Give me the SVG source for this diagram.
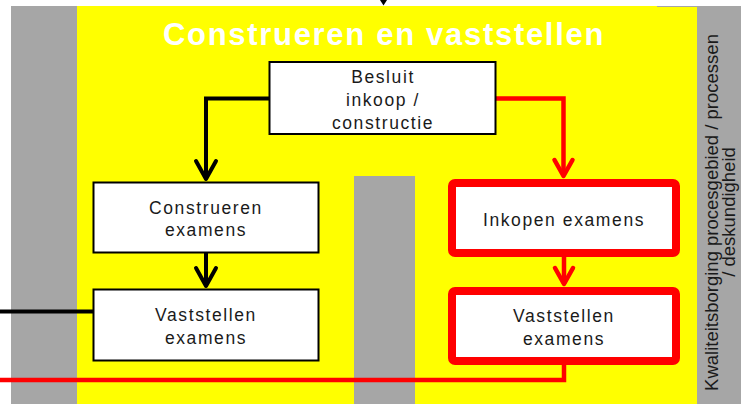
<svg xmlns="http://www.w3.org/2000/svg" width="741" height="404" viewBox="0 0 741 404">
<style>
.band{fill:#a6a6a6}
.node{fill:#fff;stroke:#000;stroke-width:2}
.rnode{fill:#fff;stroke:#ff0000;stroke-width:8}
.lbl{font-family:"Liberation Sans",Arial,sans-serif;font-size:17.5px;letter-spacing:1.6px;fill:#1a1a1a;text-anchor:middle}
.title{font-family:"Liberation Sans",Arial,sans-serif;font-size:31px;font-weight:bold;letter-spacing:1.7px;fill:#fff;text-anchor:middle}
.side{font-family:"Liberation Sans",Arial,sans-serif;font-size:18.5px;fill:#1a1a1a;text-anchor:middle}
.cb{fill:none;stroke:#000;stroke-width:4}
.cr{fill:none;stroke:#ff0000;stroke-width:4.5}
</style>
<defs>
<marker id="chevB" markerUnits="userSpaceOnUse" markerWidth="24" markerHeight="24" refX="0" refY="0" orient="auto" overflow="visible">
<path d="M-18,-10 L0,0 L-18,10" fill="none" stroke="#000" stroke-width="4" stroke-linecap="round" stroke-linejoin="round"/>
</marker>
<marker id="chevR" markerUnits="userSpaceOnUse" markerWidth="24" markerHeight="24" refX="0" refY="0" orient="auto" overflow="visible">
<path d="M-16,-9 L0,0 L-16,9" fill="none" stroke="#ff0000" stroke-width="4.5" stroke-linecap="round" stroke-linejoin="round"/>
</marker>
</defs>
<g id="background">
<rect x="77" y="6" width="620" height="398" fill="#ffff00"/>
<rect class="band" x="11" y="6" width="66" height="398"/>
<rect class="band" x="354" y="176" width="61" height="228"/>
<rect class="band" x="697" y="6" width="44" height="398"/>
<rect class="band" x="657" y="6" width="40" height="1"/>
<polygon points="380,0 387,0 383.5,5.5" fill="#000"/>
</g>
<g id="title">
<text class="title" x="384" y="45">Construeren en vaststellen</text>
</g>
<g id="side-label">
<text class="side" transform="translate(718,212.5) rotate(-90)">Kwaliteitsborging procesgebied / processen</text>
<text class="side" transform="translate(735,212) rotate(-90)">/ deskundigheid</text>
</g>
<g id="connectors">
<path class="cb" d="M269,98.5 H206 V179" marker-end="url(#chevB)"/>
<path class="cb" d="M206,253 V286" marker-end="url(#chevB)"/>
<path class="cb" d="M0,311.5 H96"/>
<path class="cr" d="M496,98.5 H563.5 V176" marker-end="url(#chevR)"/>
<path class="cr" d="M564,257 V284" marker-end="url(#chevR)"/>
<path class="cr" d="M564,365 V380 H0"/>
</g>
<g id="besluit">
<rect class="node" x="269.5" y="62" width="226" height="72"/>
<text class="lbl" x="383" y="83">Besluit</text>
<text class="lbl" x="383" y="106">inkoop /</text>
<text class="lbl" x="383" y="128.5">constructie</text>
</g>
<g id="construeren">
<rect class="node" x="93.5" y="182.5" width="225" height="70"/>
<text class="lbl" x="206" y="213.5">Construeren</text>
<text class="lbl" x="206" y="236">examens</text>
</g>
<g id="vaststellen-links">
<rect class="node" x="93.5" y="289.5" width="225" height="71"/>
<text class="lbl" x="206" y="320.5">Vaststellen</text>
<text class="lbl" x="206" y="343.5">examens</text>
</g>
<g id="inkopen">
<rect class="rnode" x="452" y="183" width="224" height="70" rx="3"/>
<text class="lbl" x="564" y="226">Inkopen examens</text>
</g>
<g id="vaststellen-rechts">
<rect class="rnode" x="452" y="291" width="224" height="70" rx="3"/>
<text class="lbl" x="564" y="321.5">Vaststellen</text>
<text class="lbl" x="564" y="344.5">examens</text>
</g>
</svg>
